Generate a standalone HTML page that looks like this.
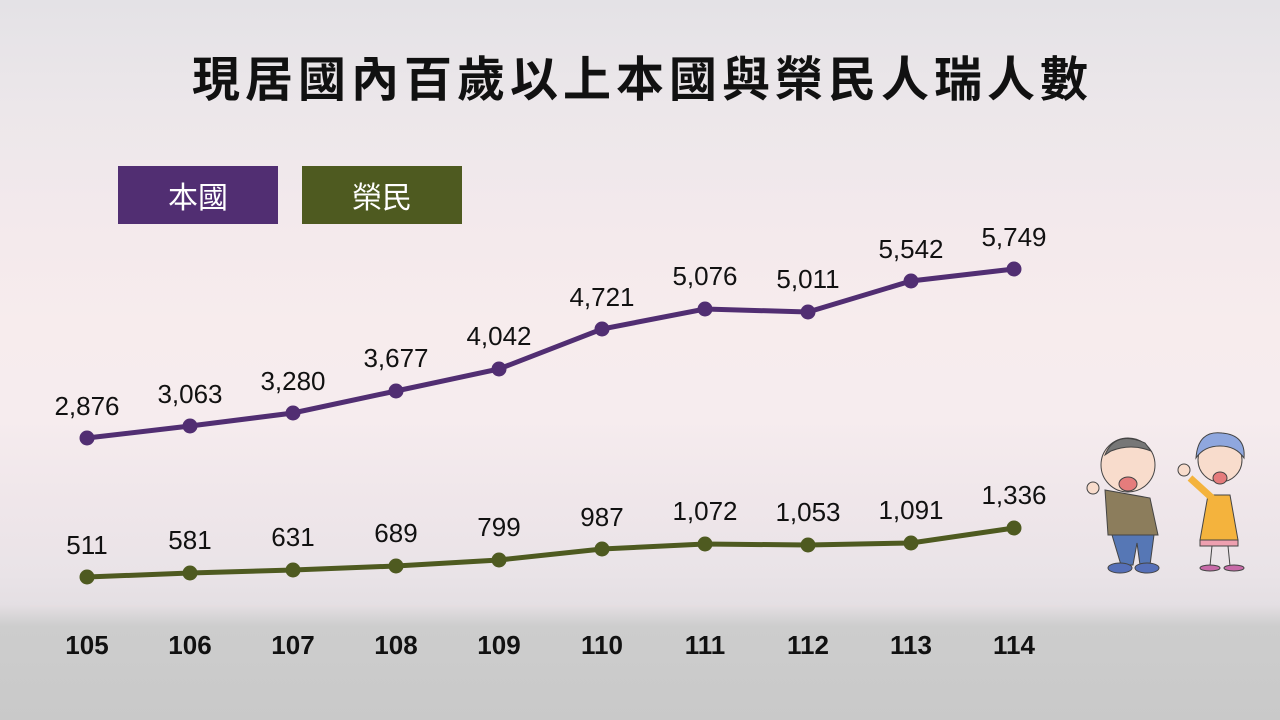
<!DOCTYPE html>
<html><head><meta charset="utf-8"><style>
html,body{margin:0;padding:0;width:1280px;height:720px;overflow:hidden}
body{position:relative;font-family:"Liberation Sans","Noto Sans CJK TC",sans-serif;
background:linear-gradient(180deg,#e4e2e6 0%,#ece7ea 15%,#f3e9ec 30%,#f7eced 45%,#f6ecee 58%,#efe6ea 70%,#e9e3e7 80%,#e4dfe3 84%,#cdcdcd 87%,#c9c9c9 100%)}
.t{position:absolute;left:0;width:1280px;top:40px;text-align:center;font-size:48px;font-weight:bold;color:#111;font-family:"Noto Sans CJK TC",sans-serif;letter-spacing:5px;text-indent:5px}
.lg{position:absolute;top:166px;height:58px;width:160px;color:#fff;font-size:30px;text-align:center;line-height:58px;font-family:"Noto Sans CJK TC",sans-serif}
</style></head><body>
<div class="t">現居國內百歲以上本國與榮民人瑞人數</div>
<div class="lg" style="left:118px;background:#512e72">本國</div>
<div class="lg" style="left:302px;background:#4e5a20">榮民</div>
<svg width="1280" height="720" style="position:absolute;left:0;top:0" font-family="Liberation Sans, sans-serif">
<line x1="30" y1="606" x2="1062" y2="606" stroke="#e6dde0" stroke-width="1"/>
<polyline fill="none" stroke="#512e72" stroke-width="5" points="87,438 190,426 293,413 396,391 499,369 602,329 705,309 808,312 911,281 1014,269"/>
<g fill="#512e72"><circle cx="87" cy="438" r="7.5"/><circle cx="190" cy="426" r="7.5"/><circle cx="293" cy="413" r="7.5"/><circle cx="396" cy="391" r="7.5"/><circle cx="499" cy="369" r="7.5"/><circle cx="602" cy="329" r="7.5"/><circle cx="705" cy="309" r="7.5"/><circle cx="808" cy="312" r="7.5"/><circle cx="911" cy="281" r="7.5"/><circle cx="1014" cy="269" r="7.5"/></g>
<polyline fill="none" stroke="#4e5a20" stroke-width="5" points="87,577 190,573 293,570 396,566 499,560 602,549 705,544 808,545 911,543 1014,528"/>
<g fill="#4e5a20"><circle cx="87" cy="577" r="7.5"/><circle cx="190" cy="573" r="7.5"/><circle cx="293" cy="570" r="7.5"/><circle cx="396" cy="566" r="7.5"/><circle cx="499" cy="560" r="7.5"/><circle cx="602" cy="549" r="7.5"/><circle cx="705" cy="544" r="7.5"/><circle cx="808" cy="545" r="7.5"/><circle cx="911" cy="543" r="7.5"/><circle cx="1014" cy="528" r="7.5"/></g>
<g font-size="26" fill="#111" text-anchor="middle">
<text x="87" y="415">2,876</text><text x="190" y="403">3,063</text><text x="293" y="390">3,280</text><text x="396" y="367">3,677</text><text x="499" y="345">4,042</text><text x="602" y="306">4,721</text><text x="705" y="285">5,076</text><text x="808" y="288">5,011</text><text x="911" y="258">5,542</text><text x="1014" y="246">5,749</text>
<text x="87" y="554">511</text><text x="190" y="549">581</text><text x="293" y="546">631</text><text x="396" y="542">689</text><text x="499" y="536">799</text><text x="602" y="526">987</text><text x="705" y="520">1,072</text><text x="808" y="521">1,053</text><text x="911" y="519">1,091</text><text x="1014" y="504">1,336</text>
</g>
<g font-size="26" fill="#111" text-anchor="middle" font-weight="bold">
<text x="87" y="654">105</text><text x="190" y="654">106</text><text x="293" y="654">107</text><text x="396" y="654">108</text><text x="499" y="654">109</text><text x="602" y="654">110</text><text x="705" y="654">111</text><text x="808" y="654">112</text><text x="911" y="654">113</text><text x="1014" y="654">114</text>
</g>
<g stroke="#444" stroke-width="1">
<path d="M1105,490 L1150,498 L1158,535 L1108,535 Z" fill="#8c7d5c"/>
<path d="M1112,535 h42 l-4,30 h-10 l-3,-22 l-4,22 h-12 z" fill="#5677b5"/>
<ellipse cx="1120" cy="568" rx="12" ry="5" fill="#5670b8"/><ellipse cx="1147" cy="568" rx="12" ry="5" fill="#5670b8"/>
<circle cx="1128" cy="465" r="27" fill="#f8dccc"/>
<path d="M1105,455 q10,-25 40,-12 l6,8 q-20,-8 -40,0 z" fill="#777"/>
<ellipse cx="1128" cy="484" rx="9" ry="7" fill="#e57c7c"/>
<circle cx="1093" cy="488" r="6" fill="#f8dccc"/>
<path d="M1208,495 l22,0 l8,45 h-38 z" fill="#f4b33d"/>
<path d="M1200,540 h38 v6 h-38 z" fill="#eea0b0"/>
<line x1="1212" y1="546" x2="1210" y2="566"/><line x1="1228" y1="546" x2="1230" y2="566"/>
<ellipse cx="1210" cy="568" rx="10" ry="3" fill="#c86aa8"/><ellipse cx="1234" cy="568" rx="10" ry="3" fill="#c86aa8"/>
<path d="M1190,478 l22,20" stroke="#f4b33d" stroke-width="7"/>
<circle cx="1220" cy="460" r="22" fill="#f8dccc"/>
<path d="M1196,458 q2,-28 26,-25 q24,2 22,25 q-8,-12 -24,-12 q-16,0 -24,12 z" fill="#8fa7de"/>
<ellipse cx="1220" cy="478" rx="7" ry="6" fill="#e57c7c"/>
<circle cx="1184" cy="470" r="6" fill="#f8dccc"/>
</g>
</svg>
</body></html>
